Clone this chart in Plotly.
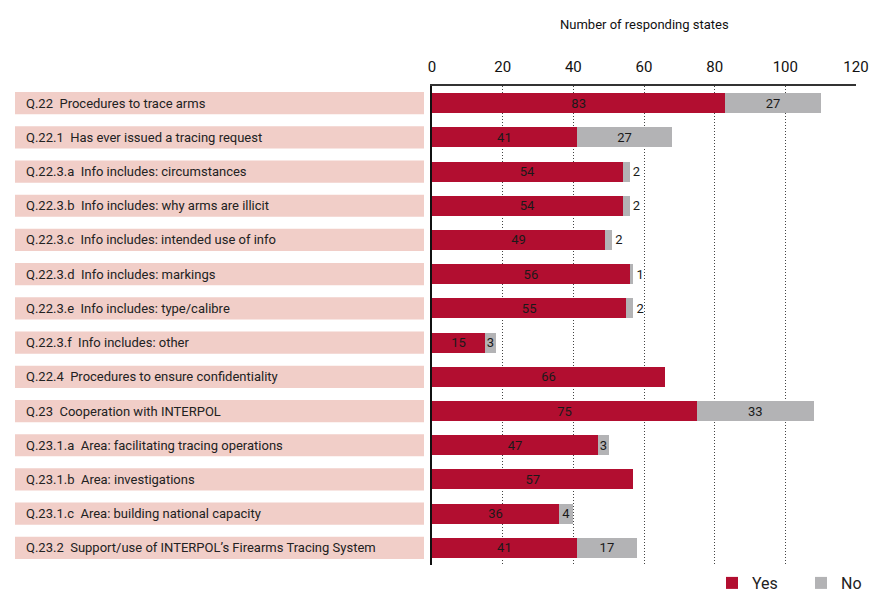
import plotly.graph_objects as go

categories = [
    "Q.22  Procedures to trace arms",
    "Q.22.1  Has ever issued a tracing request",
    "Q.22.3.a  Info includes: circumstances",
    "Q.22.3.b  Info includes: why arms are illicit",
    "Q.22.3.c  Info includes: intended use of info",
    "Q.22.3.d  Info includes: markings",
    "Q.22.3.e  Info includes: type/calibre",
    "Q.22.3.f  Info includes: other",
    "Q.22.4  Procedures to ensure confidentiality",
    "Q.23  Cooperation with INTERPOL",
    "Q.23.1.a  Area: facilitating tracing operations",
    "Q.23.1.b  Area: investigations",
    "Q.23.1.c  Area: building national capacity",
    "Q.23.2  Support/use of INTERPOL\u2019s Firearms Tracing System",
]
yes_vals = [83, 41, 54, 54, 49, 56, 55, 15, 66, 75, 47, 57, 36, 41]
no_vals = [27, 27, 2, 2, 2, 1, 2, 3, None, 33, 3, None, 4, 17]
x_ticks = [0, 20, 40, 60, 80, 100, 120]

FONT = "Roboto, sans-serif"
RED = "#b20e30"
GREY = "#b3b3b5"
PINK = "#f1cec8"

idx = list(range(len(categories)))

fig = go.Figure()
fig.add_trace(go.Bar(
    y=idx, x=yes_vals, orientation="h", name="Yes",
    marker=dict(color=RED, line=dict(width=0)),
    text=[str(v) for v in yes_vals], textposition="inside",
    insidetextanchor="middle", textangle=0, constraintext="none",
    textfont=dict(family=FONT, size=13, color="#1a1a1a"),
    width=0.585, hoverinfo="skip",
))
fig.add_trace(go.Bar(
    y=idx, x=no_vals, orientation="h", name="No",
    marker=dict(color=GREY, line=dict(width=0)),
    text=["" if v is None else str(v) for v in no_vals],
    textposition=["outside" if (v is not None and v < 3) else "inside" for v in no_vals],
    insidetextanchor="middle", textangle=0, constraintext="none",
    textfont=dict(family=FONT, size=13, color="#1a1a1a"),
    width=0.585, hoverinfo="skip", cliponaxis=False,
))

# label backgrounds and texts
for i, c in enumerate(categories):
    fig.add_shape(type="rect", xref="paper", yref="y",
                  x0=(15 - 432) / 424, x1=(424 - 432) / 424,
                  y0=i - 0.325, y1=i + 0.325,
                  fillcolor=PINK, line=dict(width=0), layer="below")
    fig.add_annotation(xref="paper", yref="y", x=(24 - 432) / 424, y=i,
                       text=c.replace("  ", "\u00a0\u00a0"), showarrow=False,
                       xanchor="left", yanchor="middle",
                       font=dict(family=FONT, size=13, color="#222222"))

fig.add_annotation(xref="paper", yref="paper", x=0.5, y=(565 - 25) / 479,
                   text="Number of responding states",
                   showarrow=False, xanchor="center", yanchor="middle",
                   font=dict(family=FONT, size=13, color="#111111"))

fig.update_layout(
    width=869, height=595,
    margin=dict(l=432, r=13, t=86, b=30, autoexpand=False),
    paper_bgcolor="white", plot_bgcolor="white",
    barmode="stack", bargap=0.4,
    font=dict(family=FONT, size=13, color="#111111"),
    showlegend=True,
    legend=dict(orientation="h", xref="container", yref="container",
                x=712 / 869, xanchor="left",
                y=12 / 595, yanchor="middle", traceorder="normal",
                font=dict(family=FONT, size=16, color="#222222"),
                entrywidthmode="pixels", entrywidth=44),
    xaxis=dict(
        side="top", range=[0, 120], tickvals=x_ticks,
        showgrid=True, gridcolor="#444444", griddash="1px,2px", gridwidth=1,
        zeroline=False, showline=True, linecolor="#333333", linewidth=1.5,
        ticks="", ticklabeloverflow="allow", ticklabelstandoff=6,
        tickfont=dict(family=FONT, size=15, color="#111111"),
        fixedrange=True,
    ),
    yaxis=dict(
        range=[13.5, -0.5], showticklabels=False, showgrid=False,
        zeroline=False, showline=True, linecolor="#111111", linewidth=2,
        ticks="", fixedrange=True,
    ),
)

fig.write_html("out.html", config={"displayModeBar": False},
               post_script="document.body.style.margin='0';")
